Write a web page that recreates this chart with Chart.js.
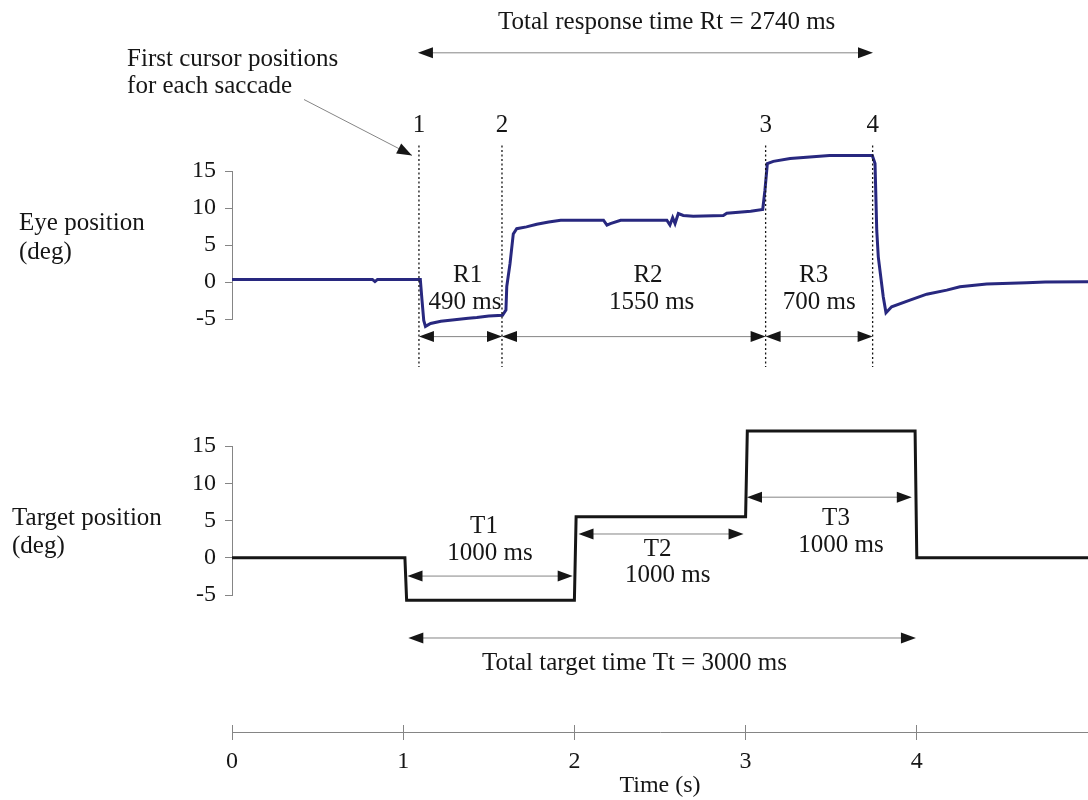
<!DOCTYPE html>
<html>
<head>
<meta charset="utf-8">
<title>Eye and target position</title>
<script src="https://cdn.jsdelivr.net/npm/chart.js@4.4.1/dist/chart.umd.min.js"></script>
<style>
  body { margin: 0; background: #fff; }
  #wrap { position: relative; width: 1088px; height: 800px; overflow: hidden; }
  #wrap canvas { position: absolute; left: 0; }
</style>
</head>
<body>
<div id="wrap">
  <canvas id="eyeChart" width="1088" height="380" style="top:0;width:1088px;height:380px"></canvas>
  <canvas id="targetChart" width="1088" height="310" style="top:380px;width:1088px;height:310px"></canvas>
  <canvas id="timeAxis" width="1088" height="110" style="top:690px;width:1088px;height:110px"></canvas>
</div>
<script>
// eye trace (time in s, position in deg)
const eyeTime = [0, 0.82, 0.835, 0.85, 1.10, 1.11, 1.12, 1.13, 1.16, 1.22, 1.30, 1.38, 1.43, 1.50, 1.58,
  1.60, 1.605, 1.624, 1.643, 1.663, 1.72, 1.78, 1.85, 1.92, 2.17, 2.19, 2.21, 2.27, 2.54, 2.558,
  2.574, 2.588, 2.607, 2.636, 2.694, 2.87, 2.89, 3.03, 3.10, 3.113, 3.127, 3.162, 3.26, 3.49, 3.74,
  3.756, 3.766, 3.775, 3.804, 3.82, 3.853, 3.96, 4.058, 4.175, 4.252, 4.408, 4.642, 4.75, 5.0];
const eyeDeg = [0.35, 0.35, 0.05, 0.35, 0.35, -2.5, -5.2, -6.0, -5.6, -5.3, -5.1, -4.9, -4.8, -4.6, -4.5,
  -3.8, -0.6, 2.5, 6.5, 7.2, 7.45, 7.8, 8.1, 8.35, 8.35, 7.7, 7.9, 8.35, 8.35, 7.7,
  8.7, 7.9, 9.25, 9.0, 8.9, 9.0, 9.3, 9.55, 9.8, 12.4, 16.0, 16.3, 16.7, 17.1, 17.1,
  16.0, 7.0, 3.4, -2.0, -4.15, -3.35, -2.45, -1.65, -1.1, -0.65, -0.28, -0.1, 0.0, 0.03];

// target steps
const targetTime = [0, 1.01, 1.02, 2.0, 2.01, 3.0, 3.01, 3.99, 4.0, 5.0];
const targetDeg = [0, 0, -5.7, -5.7, 5.5, 5.5, 17.0, 17.0, 0, 0];

// first cursor position of each saccade (s)
const cursorTimes = [1.092, 1.577, 3.117, 3.742];
const cursorLabels = ['1', '2', '3', '4'];
const responseNames = ['R1', 'R2', 'R3'];
const responseDurations = ['490 ms', '1550 ms', '700 ms'];
const targetNames = ['T1', 'T2', 'T3'];
const targetDurations = ['1000 ms', '1000 ms', '1000 ms'];
const degTicks = [-5, 0, 5, 10, 15];
const timeTicks = [0, 1, 2, 3, 4];

const ink = '#161616';
const guide = '#858585';
const textFont = '25px "Liberation Serif"';

Chart.defaults.font.family = '"Liberation Serif", "Times New Roman", serif';
Chart.defaults.color = ink;

function toPoints(xs, ys) {
  return xs.map((x, i) => ({ x: x, y: ys[i] }));
}

function hiddenTime() {
  return { type: 'linear', min: 0, max: 5, display: false };
}

function degAxis() {
  return {
    type: 'linear',
    min: degTicks[0],
    max: degTicks[degTicks.length - 1],
    afterBuildTicks: (s) => { s.ticks = degTicks.map(v => ({ value: v })); },
    ticks: { padding: 9, color: ink, font: { size: 24 } },
    grid: { drawOnChartArea: false, tickLength: 7, color: guide, lineWidth: 1 },
    border: { color: guide, width: 1 },
    afterFit: (s) => { s.width = 232; }
  };
}

// small drawing helpers for the annotations
function text(ctx, str, x, y, align) {
  ctx.font = textFont;
  ctx.fillStyle = ink;
  ctx.textAlign = align || 'center';
  ctx.textBaseline = 'middle';
  ctx.fillText(str, x, y);
}

function head(ctx, x, y, angle) {
  ctx.save();
  ctx.translate(x, y);
  ctx.rotate(angle);
  ctx.beginPath();
  ctx.moveTo(0, 0);
  ctx.lineTo(-15, -5.5);
  ctx.lineTo(-15, 5.5);
  ctx.closePath();
  ctx.fillStyle = ink;
  ctx.fill();
  ctx.restore();
}

function spanArrow(ctx, x1, x2, y) {
  ctx.beginPath();
  ctx.moveTo(x1 + 10, y);
  ctx.lineTo(x2 - 10, y);
  ctx.strokeStyle = guide;
  ctx.lineWidth = 1;
  ctx.stroke();
  head(ctx, x1, y, Math.PI);
  head(ctx, x2, y, 0);
}

function notes(draw) {
  return {
    id: 'notes',
    afterDraw(chart) {
      const { ctx, scales } = chart;
      const px = t => scales.x.getPixelForValue(t);
      const py = v => scales.y.getPixelForValue(v);
      ctx.save();
      draw(ctx, px, py);
      ctx.restore();
    }
  };
}

const eyeNotes = notes((ctx, px, py) => {
  // cursor lines
  ctx.strokeStyle = ink;
  ctx.lineWidth = 1.3;
  ctx.setLineDash([2, 2.5]);
  cursorTimes.forEach(t => {
    ctx.beginPath();
    ctx.moveTo(px(t), py(18.46));
    ctx.lineTo(px(t), py(-11.5));
    ctx.stroke();
  });
  ctx.setLineDash([]);
  cursorTimes.forEach((t, i) => text(ctx, cursorLabels[i], px(t), py(21.16)));

  // response intervals
  for (let i = 0; i < 3; i++) {
    spanArrow(ctx, px(cursorTimes[i]), px(cursorTimes[i + 1]), py(-7.38));
  }
  const nameAt = [[1.376, 0.94], [2.43, 0.94], [3.397, 0.94]];
  const durAt = [[1.361, -2.82], [2.451, -2.82], [3.43, -2.82]];
  responseNames.forEach((n, i) => text(ctx, n, px(nameAt[i][0]), py(nameAt[i][1])));
  responseDurations.forEach((d, i) => text(ctx, d, px(durAt[i][0]), py(durAt[i][1])));

  // total response time
  text(ctx, 'Total response time Rt = 2740 ms', px(2.539), py(35.1));
  spanArrow(ctx, px(1.086), px(3.744), py(30.97));

  // cursor note with leader
  text(ctx, 'First cursor positions', px(-0.613), py(30.13), 'left');
  text(ctx, 'for each saccade', px(-0.613), py(26.42), 'left');
  const x1 = px(0.4206), y1 = py(24.66), x2 = px(1.0514), y2 = py(17.11);
  ctx.beginPath();
  ctx.moveTo(x1, y1);
  ctx.lineTo(x2, y2);
  ctx.strokeStyle = guide;
  ctx.lineWidth = 1;
  ctx.stroke();
  head(ctx, x2, y2, Math.atan2(y2 - y1, x2 - x1));

  // axis caption
  text(ctx, 'Eye position', px(-1.244), py(7.94), 'left');
  text(ctx, '(deg)', px(-1.244), py(4.03), 'left');
});

const targetNotes = notes((ctx, px, py) => {
  text(ctx, 'Target position', px(-1.285), py(5.34), 'left');
  text(ctx, '(deg)', px(-1.285), py(1.5), 'left');

  const spans = [[1.025, 1.99, -2.46], [2.024, 2.988, 3.19], [3.008, 3.971, 8.13]];
  spans.forEach(s => spanArrow(ctx, px(s[0]), px(s[1]), py(s[2])));
  const nameAt = [[1.472, 4.27], [2.486, 1.17], [3.528, 5.3]];
  const durAt = [[1.507, 0.63], [2.545, -2.42], [3.557, 1.71]];
  targetNames.forEach((n, i) => text(ctx, n, px(nameAt[i][0]), py(nameAt[i][1])));
  targetDurations.forEach((d, i) => text(ctx, d, px(durAt[i][0]), py(durAt[i][1])));

  spanArrow(ctx, px(1.03), px(3.995), py(-10.77));
  text(ctx, 'Total target time Tt = 3000 ms', px(2.351), py(-14.17));
});

const quiet = { legend: { display: false }, tooltip: { enabled: false } };

new Chart(document.getElementById('eyeChart'), {
  type: 'line',
  data: {
    datasets: [{
      data: toPoints(eyeTime, eyeDeg),
      borderColor: '#28287f',
      borderWidth: 3,
      pointRadius: 0,
      tension: 0,
      clip: false
    }]
  },
  options: {
    responsive: false,
    animation: false,
    events: [],
    layout: { autoPadding: false, padding: { top: 171, bottom: 61, left: 0, right: 0 } },
    plugins: quiet,
    scales: { x: hiddenTime(), y: degAxis() }
  },
  plugins: [eyeNotes]
});

new Chart(document.getElementById('targetChart'), {
  type: 'line',
  data: {
    datasets: [{
      data: toPoints(targetTime, targetDeg),
      borderColor: ink,
      borderWidth: 3,
      pointRadius: 0,
      tension: 0,
      clip: false
    }]
  },
  options: {
    responsive: false,
    animation: false,
    events: [],
    layout: { autoPadding: false, padding: { top: 66, bottom: 95, left: 0, right: 0 } },
    plugins: quiet,
    scales: { x: hiddenTime(), y: degAxis() }
  },
  plugins: [targetNotes]
});

// shared time axis
new Chart(document.getElementById('timeAxis'), {
  type: 'line',
  data: { datasets: [] },
  options: {
    responsive: false,
    animation: false,
    events: [],
    layout: { autoPadding: false, padding: { top: 35, bottom: 0, left: 232, right: 0 } },
    plugins: quiet,
    scales: {
      x: {
        type: 'linear',
        min: 0,
        max: 5,
        afterBuildTicks: (s) => { s.ticks = timeTicks.map(v => ({ value: v })); },
        ticks: { padding: 7, maxRotation: 0, color: ink, font: { size: 24 } },
        grid: { drawOnChartArea: true, tickLength: 8, color: guide, lineWidth: 1 },
        border: { color: guide, width: 1 },
        title: { display: true, text: 'Time (s)', color: ink, font: { size: 24 }, padding: 0 },
        afterFit: (s) => { s.height = 68; }
      },
      y: { display: false }
    }
  }
});
</script>
</body>
</html>
